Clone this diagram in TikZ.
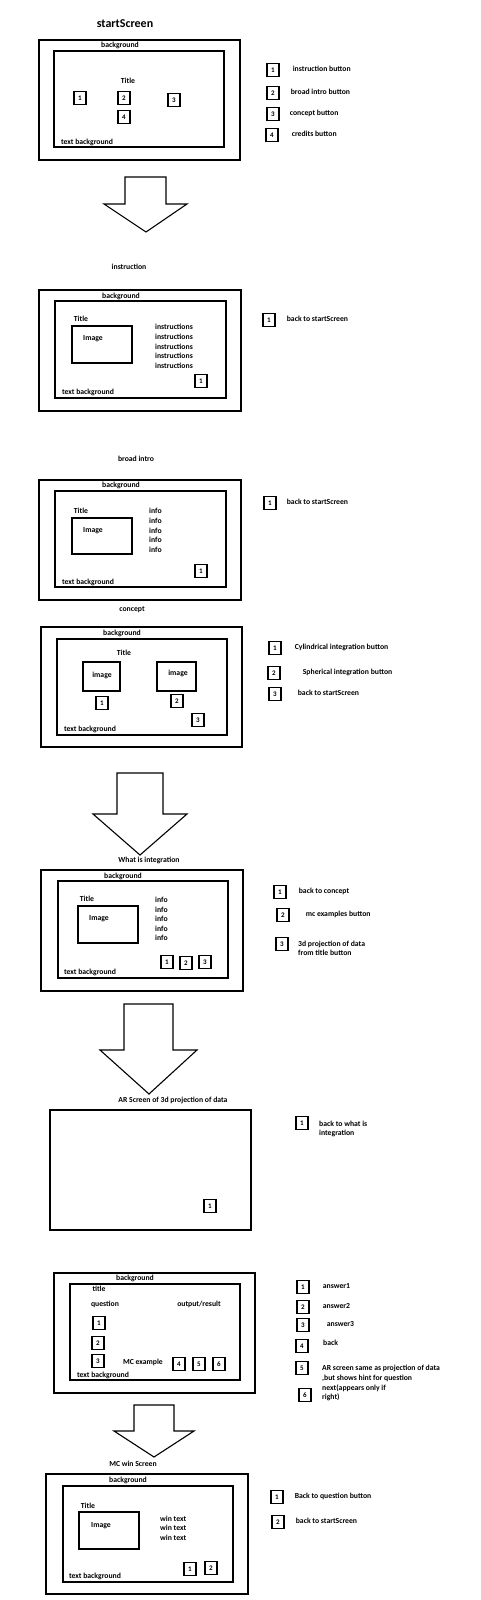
\documentclass[tikz,border=0pt]{standalone}
\usepackage{fontspec}
\setmainfont{Carlito}
\usetikzlibrary{positioning}
\tikzset{
    screen/.style = {draw, line width=1.6pt},
    panel/.style = {draw, line width=1.4pt},
    imagebox/.style = {draw, line width=1.2pt},
    button/.style = {draw, rectangle, line width=1.3pt,
        minimum width=12pt, minimum height=13pt,
        inner sep=0pt, font=\fontsize{7}{8}\selectfont\bfseries},
    txt/.style = {inner sep=0pt, text height=5.4pt, text depth=1.6pt,
        font=\fontsize{7.7}{9}\selectfont\bfseries},
    keytxt/.style = {txt, anchor=west},
    heading/.style = {inner sep=0pt, font=\fontsize{12}{14}\selectfont\bfseries},
    bigarrow/.style = {draw, line width=1.1pt, line join=miter}
}

\begin{document}
\begin{tikzpicture}[x=1pt, y=-1pt]
    \useasboundingbox (0,0) rectangle (480,1600);

    % startScreen
    \node [heading] (hstart) at (125,24) {startScreen};
    \draw [screen] (39,40) rectangle (240,160);
    \draw [panel] (54,51) rectangle (224,147);
    \node [txt] (bgstart) at (120,46) {background};
    \node [txt] (titlestart) at (128,82) {Title};
    \node [button] (start1) at (80,98) {1};
    \node [button] (start2) at (124,98) {2};
    \node [button] (start3) at (174,100) {3};
    \node [button] (start4) at (124,117) {4};
    \node [txt] (tbstart) at (87,143) {text background};
    \node [button] (kstart1) at (273,70) {1};
    \node [keytxt, right=13pt of kstart1] (kstart1t) {instruction button};
    \node [button] (kstart2) at (273,93) {2};
    \node [keytxt, right=11pt of kstart2] (kstart2t) {broad intro button};
    \node [button] (kstart3) at (273,114) {3};
    \node [keytxt, right=10pt of kstart3] (kstart3t) {concept button};
    \node [button] (kstart4) at (272,135) {4};
    \node [keytxt, right=13pt of kstart4] (kstart4t) {credits button};
    \draw [bigarrow] (125,177) -- (166,177) -- (166,204) -- (187,204) -- (146,232) -- (104,204) -- (125,204) -- cycle;

    % instruction
    \node [txt] (hinstr) at (129,268) {instruction};
    \draw [screen] (39,290) rectangle (241,411);
    \draw [panel] (55,301) rectangle (226,398);
    \node [txt] (bginstr) at (121,297) {background};
    \node [txt] (titleinstr) at (81,320) {Title};
    \draw [imagebox] (72,326) rectangle (132,363);
    \node [txt] (imginstr) at (93,339) {Image};
    \foreach \y in {328,338,348,357,367}
        \node [keytxt] (instr\y) at (155,\y) {instructions};
    \node [button] (instr1) at (201,381) {1};
    \node [txt] (tbinstr) at (88,393) {text background};
    \node [button] (kinstr1) at (269,320) {1};
    \node [keytxt, right=11pt of kinstr1] (kinstr1t) {back to startScreen};

    % broad intro
    \node [txt] (hbroad) at (136,460) {broad intro};
    \draw [screen] (39,480) rectangle (241,600);
    \draw [panel] (55,491) rectangle (226,587);
    \node [txt] (bgbroad) at (121,486) {background};
    \node [txt] (titlebroad) at (81,512) {Title};
    \draw [imagebox] (72,518) rectangle (132,554);
    \node [txt] (imgbroad) at (93,531) {Image};
    \foreach \y in {512,522,532,541,551}
        \node [keytxt] (info\y) at (149,\y) {info};
    \node [button] (broad1) at (201,571) {1};
    \node [txt] (tbbroad) at (88,583) {text background};
    \node [button] (kbroad1) at (270,503) {1};
    \node [keytxt, right=10pt of kbroad1] (kbroad1t) {back to startScreen};

    % concept
    \node [txt] (hconcept) at (132,610) {concept};
    \draw [screen] (41,627) rectangle (242,747);
    \draw [panel] (57,639) rectangle (227,735);
    \node [txt] (bgconcept) at (122,634) {background};
    \node [txt] (titleconcept) at (124,654) {Title};
    \draw [imagebox] (83,662) rectangle (120,691);
    \node [txt] (imgcyl) at (102,676) {image};
    \draw [imagebox] (157,662) rectangle (196,691);
    \node [txt] (imgsph) at (178,674) {image};
    \node [button] (concept1) at (102,703) {1};
    \node [button] (concept2) at (177,701) {2};
    \node [button] (concept3) at (198,720) {3};
    \node [txt] (tbconcept) at (90,730) {text background};
    \node [button] (kconcept1) at (275,648) {1};
    \node [keytxt, right=13pt of kconcept1] (kconcept1t) {Cylindrical integration button};
    \node [button] (kconcept2) at (274,673) {2};
    \node [keytxt, right=22pt of kconcept2] (kconcept2t) {Spherical integration button};
    \node [button] (kconcept3) at (275,694) {3};
    \node [keytxt, right=16pt of kconcept3] (kconcept3t) {back to startScreen};
    \draw [bigarrow] (117,773) -- (163,773) -- (163,814) -- (187,814) -- (140,855) -- (93,814) -- (117,814) -- cycle;

    % What is integration
    \node [txt] (hwhat) at (149,861) {What is integration};
    \draw [screen] (41,870) rectangle (243,991);
    \draw [panel] (58,881) rectangle (228,978);
    \node [txt] (bgwhat) at (123,877) {background};
    \node [txt] (titlewhat) at (87,900) {Title};
    \draw [imagebox] (78,906) rectangle (138,943);
    \node [txt] (imgwhat) at (99,919) {Image};
    \foreach \y in {901,911,920,930,939}
        \node [keytxt] (winfo\y) at (155,\y) {info};
    \node [button] (what1) at (167,962) {1};
    \node [button] (what2) at (186,963) {2};
    \node [button] (what3) at (205,962) {3};
    \node [txt] (tbwhat) at (90,973) {text background};
    \node [button] (kwhat1) at (280,892) {1};
    \node [keytxt, right=12pt of kwhat1] (kwhat1t) {back to concept};
    \node [button] (kwhat2) at (283,915) {2};
    \node [keytxt, right=16pt of kwhat2] (kwhat2t) {mc examples button};
    \node [button] (kwhat3) at (282,944) {3};
    \node [keytxt] (kwhat3t) at (298,945) {3d projection of data};
    \node [keytxt] (kwhat3u) at (298,954) {from title button};
    \draw [bigarrow] (124,1004) -- (173,1004) -- (173,1050) -- (197,1050) -- (149,1094) -- (100,1050) -- (124,1050) -- cycle;

    % AR screen
    \node [txt] (har) at (173,1101) {AR Screen of 3d projection of data};
    \draw [screen] (50,1110) rectangle (251,1230);
    \node [button] (ar1) at (210,1206) {1};
    \node [button] (kar1) at (302,1123) {1};
    \node [keytxt] (kar1t) at (319,1125) {back to what is};
    \node [keytxt] (kar1u) at (319,1134) {integration};

    % MC example
    \draw [screen] (54,1273) rectangle (255,1393);
    \draw [panel] (70,1284) rectangle (240,1380);
    \node [txt] (bgmc) at (135,1279) {background};
    \node [txt] (titlemc) at (99,1290) {title};
    \node [txt] (question) at (105,1305) {question};
    \node [txt] (result) at (199,1305) {output/result};
    \node [button] (mc1) at (99,1323) {1};
    \node [button] (mc2) at (98,1343) {2};
    \node [button] (mc3) at (98,1361) {3};
    \node [txt] (hmc) at (143,1363) {MC example};
    \node [button] (mc4) at (179,1364) {4};
    \node [button] (mc5) at (199,1364) {5};
    \node [button] (mc6) at (219,1364) {6};
    \node [txt] (tbmc) at (103,1376) {text background};
    \node [button] (kmc1) at (303,1287) {1};
    \node [keytxt, right=13pt of kmc1] (kmc1t) {answer1};
    \node [button] (kmc2) at (303,1307) {2};
    \node [keytxt, right=13pt of kmc2] (kmc2t) {answer2};
    \node [button] (kmc3) at (303,1325) {3};
    \node [keytxt, right=17pt of kmc3] (kmc3t) {answer3};
    \node [button] (kmc4) at (302,1346) {4};
    \node [keytxt] (kmc4t) at (323,1344) {back};
    \node [button] (kmc5) at (302,1368) {5};
    \node [keytxt] (kmc5t) at (322,1369) {AR screen same as projection of data};
    \node [keytxt] (kmc5u) at (322,1379) {,but shows hint for question};
    \node [keytxt] (kmc6t) at (322,1389) {next(appears only if};
    \node [keytxt] (kmc6u) at (322,1398) {right)};
    \node [button] (kmc6) at (305,1395) {6};
    \draw [bigarrow] (134,1405) -- (174,1405) -- (174,1431) -- (194,1431) -- (154,1457) -- (114,1431) -- (134,1431) -- cycle;

    % MC win Screen
    \node [txt] (hwin) at (133,1465) {MC win Screen};
    \draw [screen] (46,1474) rectangle (248,1594);
    \draw [panel] (63,1486) rectangle (233,1582);
    \node [txt] (bgwin) at (128,1481) {background};
    \node [txt] (titlewin) at (88,1507) {Title};
    \draw [imagebox] (79,1512) rectangle (139,1549);
    \node [txt] (imgwin) at (101,1526) {Image};
    \foreach \y in {1520,1529,1539}
        \node [keytxt] (wintext\y) at (160,\y) {win text};
    \node [button] (win1) at (190,1569) {1};
    \node [button] (win2) at (211,1568) {2};
    \node [txt] (tbwin) at (95,1577) {text background};
    \node [button] (kwin1) at (277,1497) {1};
    \node [keytxt, right=11pt of kwin1] (kwin1t) {Back to question button};
    \node [button] (kwin2) at (278,1522) {2};
    \node [keytxt, right=11pt of kwin2] (kwin2t) {back to startScreen};
\end{tikzpicture}
\end{document}
